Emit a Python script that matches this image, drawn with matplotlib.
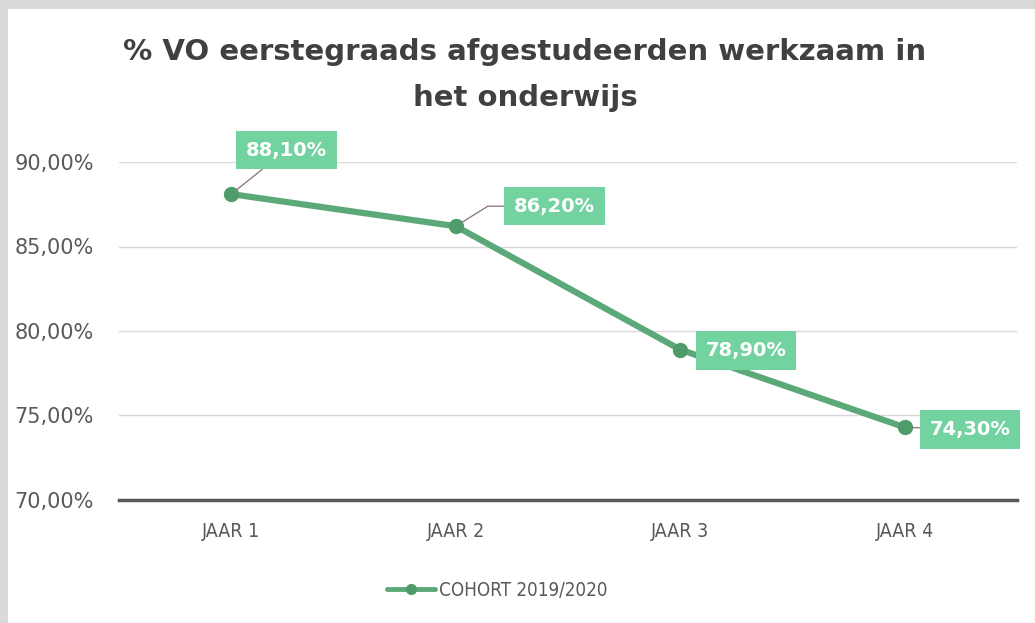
import matplotlib.pyplot as plt
from matplotlib.patches import Rectangle
from matplotlib.ticker import FuncFormatter

# ---------------------------------------------------------------------
# Data
# ---------------------------------------------------------------------
JAREN = ["JAAR 1", "JAAR 2", "JAAR 3", "JAAR 4"]
PERCENTAGES = [88.10, 86.20, 78.90, 74.30]
LABEL_OFFSETS = [(55, 44), (99, 20), (66, -1), (65, -2)]  # pixels
LEADER_STYLE = ["arc3", "angle,angleA=0,angleB=32,rad=0", None, "arc3"]

TITLE = "% VO eerstegraads afgestudeerden werkzaam in\nhet onderwijs"
SERIES_NAME = "COHORT 2019/2020"

LINE_COLOR = "#5ba878"
BOX_COLOR = "#72d3a0"
TEXT_GRAY = "#595959"


def pct_fmt(v, pos):
    return f"{v:.2f}%".replace(".", ",")


def main():
    W, H = 1035, 623
    fig = plt.figure(figsize=(W / 100, H / 100), dpi=100)
    fig.patch.set_facecolor("#d9d9d9")
    fig.patches.append(Rectangle((8 / W, 0), 1 - 8 / W, 1 - 9 / H,
                                 transform=fig.transFigure, facecolor="white",
                                 edgecolor="none", zorder=-5))

    ax = fig.add_axes([119 / W, 1 - 500 / H, (1017 - 119) / W, (500 - 162) / H])
    ax.set_zorder(2)
    ax.set_facecolor("none")

    x = list(range(len(JAREN)))
    ax.plot(x, PERCENTAGES, color=LINE_COLOR, linewidth=4.5, marker="o",
            markersize=10, markerfacecolor="#4f9c6b", markeredgecolor="#4f9c6b",
            zorder=3, label=SERIES_NAME, solid_capstyle="round")

    for xi, yi, off, style in zip(x, PERCENTAGES, LABEL_OFFSETS, LEADER_STYLE):
        txt = f"{yi:.2f}%".replace(".", ",")
        arrow = None
        if style:
            arrow = dict(arrowstyle="-", color="#8a6f72", lw=0.9,
                         shrinkA=0, shrinkB=5, connectionstyle=style)
        ax.annotate(txt, (xi, yi), xytext=off, textcoords="offset pixels",
                    ha="center", va="center", fontsize=14, fontweight="bold",
                    color="white", zorder=5, annotation_clip=False,
                    bbox=dict(boxstyle="square,pad=0.5", facecolor=BOX_COLOR,
                              edgecolor="none"),
                    arrowprops=arrow)

    ax.set_xlim(-0.5, len(JAREN) - 0.5)
    ax.set_ylim(70, 90)
    ax.set_yticks([70, 75, 80, 85, 90])
    ax.yaxis.set_major_formatter(FuncFormatter(pct_fmt))
    ax.set_xticks(x)
    ax.set_xticklabels(JAREN, fontsize=14, color=TEXT_GRAY, fontstretch="condensed")
    for lab in ax.get_yticklabels():
        lab.set_fontsize(15)
        lab.set_color(TEXT_GRAY)

    ax.grid(axis="y", color="#d9d9d9", linewidth=1)
    ax.set_axisbelow(True)
    for side in ["top", "right", "left"]:
        ax.spines[side].set_visible(False)
    ax.spines["bottom"].set_color("#595959")
    ax.spines["bottom"].set_linewidth(2.5)
    ax.tick_params(axis="both", length=0)
    ax.tick_params(axis="y", pad=18)
    ax.tick_params(axis="x", pad=16)

    fig.text(525 / W, 1 - 75 / H, TITLE, ha="center", va="center",
             fontsize=21, fontweight="bold", color="#404040", linespacing=1.85)

    leg = fig.legend(loc="center", bbox_to_anchor=(497 / W, 1 - 590 / H),
                     frameon=False, prop={"size": 13.5, "stretch": "condensed"},
                     handlelength=2.6, handletextpad=0.2, markerscale=0.7)
    for t in leg.get_texts():
        t.set_color(TEXT_GRAY)
    for h in leg.legend_handles:
        h.set_linewidth(3.5)

    fig.savefig("out.png", dpi=100, facecolor=fig.get_facecolor())
    plt.close(fig)


if __name__ == "__main__":
    main()
